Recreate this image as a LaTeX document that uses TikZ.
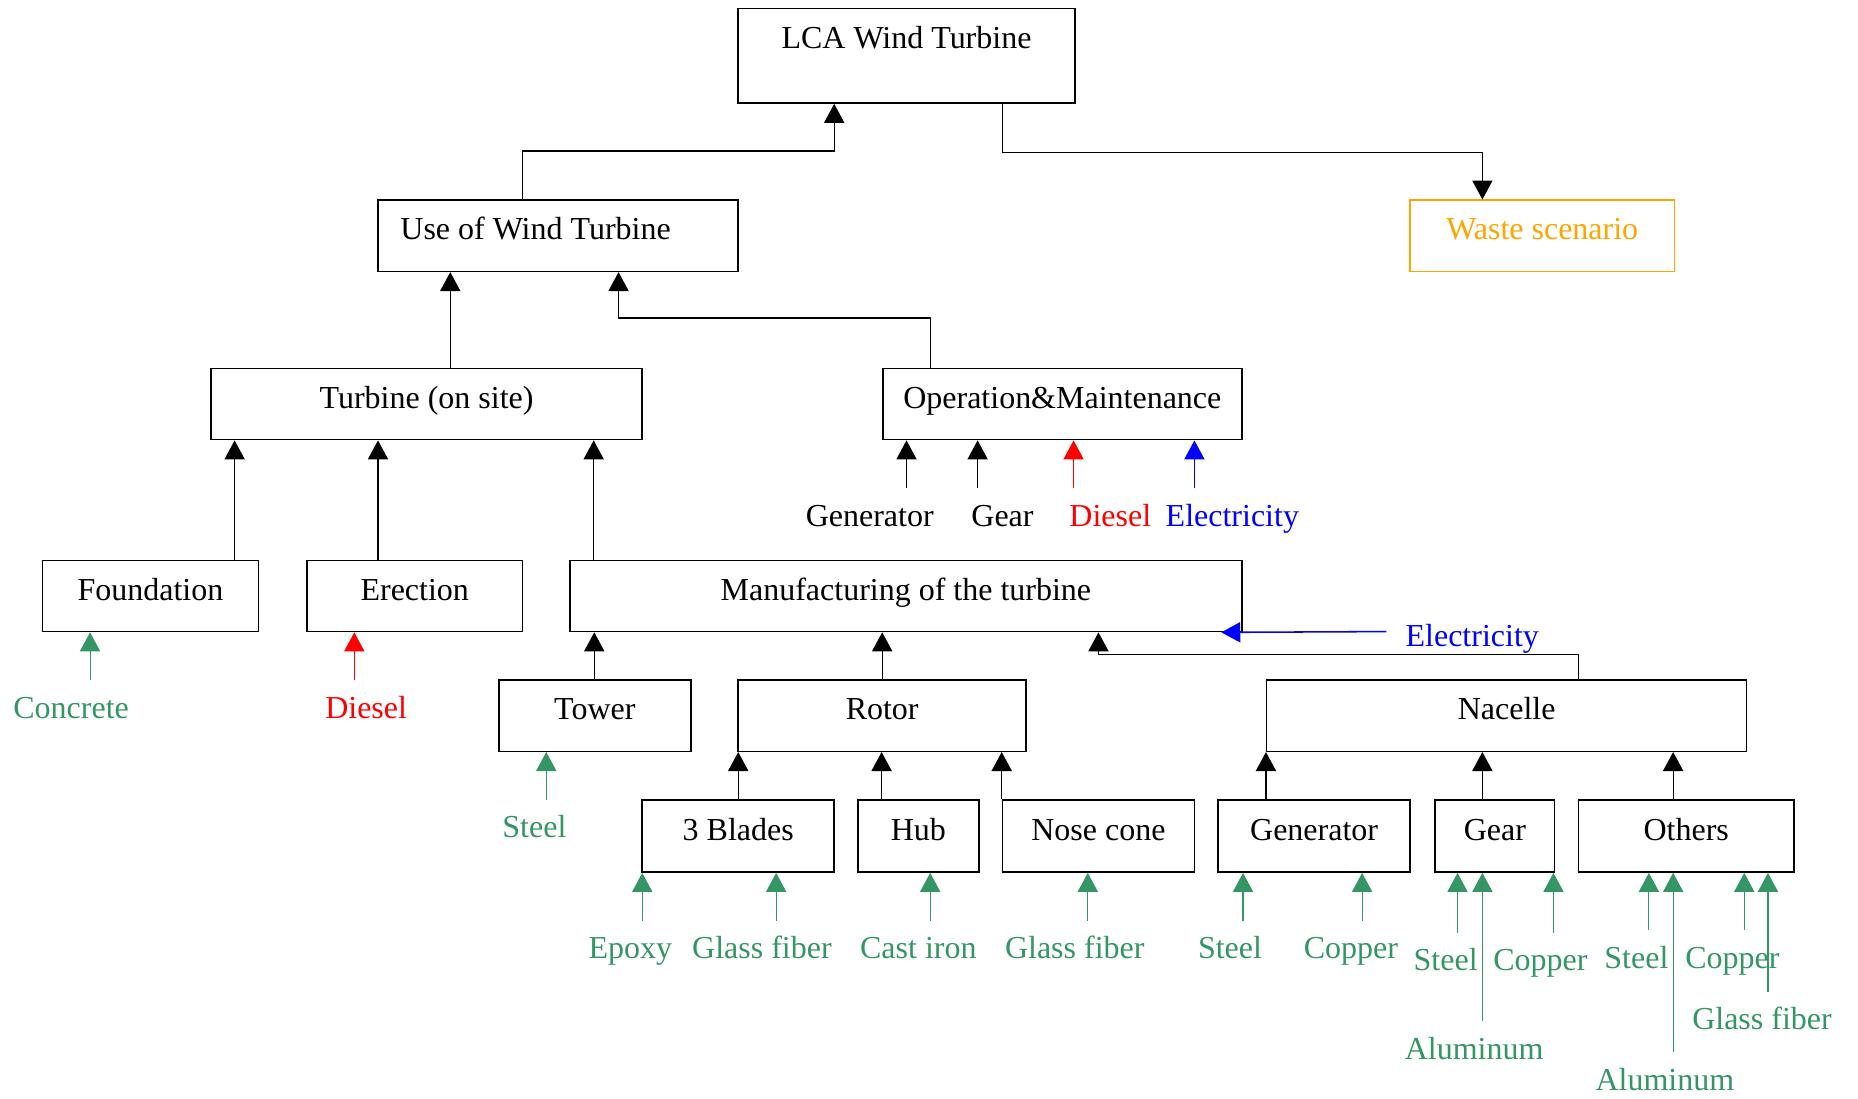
\documentclass[tikz,border=0pt]{standalone}
\usepackage{fontspec}
\setmainfont{Liberation Serif}
\usetikzlibrary{arrows.meta,calc}
\definecolor{sgreen}{RGB}{52,150,100}
\definecolor{gvorange}{RGB}{255,165,0}
% #1 name, #2 colour, #3 x, #4 y of free end, #5 target node, #6 label centre x, #7 text
\newcommand\inp[7]{%
  \coordinate (#1) at (#3,#4);
  \node[lbl,text=#2] (#1l) at (#6,#4+32) {#7};
  \draw[arr,#2,line width=0.9pt] (#1) -- (#1 |- #5.south);
}
\begin{document}
\begin{tikzpicture}[x=1pt,y=-1pt,
  box/.style={draw,line width=1.3pt,inner sep=0pt,minimum height=60pt,
    text height=20.5pt,text depth=13.5pt,font=\fontsize{27}{32}\selectfont},
  lbl/.style={anchor=base,inner sep=0pt,font=\fontsize{27}{32}\selectfont},
  arr/.style={line width=1.1pt,-{Triangle[length=16pt,width=17pt]}}]
\useasboundingbox (0,0) rectangle (1568,927);

% boxes
\node[box,minimum width=284pt,minimum height=80pt,text height=20pt,text depth=32.8pt] (lca) at (765,47) {LCA Wind Turbine};
\node[box,minimum width=304pt] (use) at (471,199) {Use of Wind Turbine\kern38pt};
\node[box,draw=gvorange,text=gvorange,minimum width=223pt] (waste) at (1301.5,199) {Waste scenario};
\node[box,minimum width=364pt] (turb) at (360,341) {Turbine (on site)};
\node[box,minimum width=303pt] (om) at (896.5,341) {Operation\&Maintenance};
\node[box,minimum width=182pt] (found) at (127,503) {Foundation};
\node[box,minimum width=182pt] (erect) at (350,503) {Erection};
\node[box,minimum width=567pt] (manuf) at (764.5,503) {Manufacturing of the turbine};
\node[box,minimum width=162pt] (tower) at (502,604) {Tower};
\node[box,minimum width=243pt] (rotor) at (744.5,604) {Rotor};
\node[box,minimum width=405pt] (nacelle) at (1271.5,604) {Nacelle};
\node[box,minimum width=162pt,minimum height=61pt] (blades) at (623,705.5) {3 Blades};
\node[box,minimum width=102pt,minimum height=61pt] (hub) at (775,705.5) {Hub};
\node[box,minimum width=162pt,minimum height=61pt] (nose) at (927,705.5) {Nose cone};
\node[box,minimum width=162pt,minimum height=61pt] (gen) at (1109,705.5) {Generator};
\node[box,minimum width=101pt,minimum height=61pt] (gear) at (1261.5,705.5) {Gear};
\node[box,minimum width=182pt,minimum height=61pt] (others) at (1423,705.5) {Others};

% connectors between boxes
\draw[arr] ([xshift=-30pt]use.north) -- ++(0,-41) -| ([xshift=-61pt]lca.south);
\draw[arr] ([xshift=81pt]lca.south) -- ++(0,41) -| ([xshift=-50.5pt]waste.north);
\draw[arr] ([xshift=20pt]turb.north) -- ([xshift=-91pt]use.south);
\draw[arr] ([xshift=-111.5pt]om.north) -- ++(0,-42) -| ([xshift=51pt]use.south);
\draw[arr] ([xshift=71pt]found.north) -- ([xshift=-162pt]turb.south);
\draw[arr] ([xshift=-31pt]erect.north) -- ([xshift=-41pt]turb.south);
\draw[arr] ([xshift=-263.5pt]manuf.north) -- ([xshift=141pt]turb.south);
\draw[arr] ([xshift=-0.5pt]tower.north) -- ([xshift=-0.5pt]tower.north |- manuf.south);
\draw[arr] (rotor.north) -- (rotor.north |- manuf.south);
\draw[arr] ([xshift=60.5pt]nacelle.north) -- ++(0,-21) -| ([xshift=162.5pt]manuf.south);
\draw[arr] (blades.north) -- (blades.north |- rotor.south);
\draw[arr] ([xshift=-31pt]hub.north) -- ([xshift=-31pt]hub.north |- rotor.south);
\draw[arr] (nose.north west) -- (nose.north west |- rotor.south);
\draw[arr] (nacelle.south west |- gen.north) -- (nacelle.south west);
\draw[arr] ([xshift=-10.5pt]gear.north) -- ([xshift=-10.5pt]gear.north |- nacelle.south);
\draw[arr] ([xshift=-11pt]others.north) -- ([xshift=-11pt]others.north |- nacelle.south);

% inputs
\inp{i1}{black}{765}{412}{om}{734}{Generator}
\inp{i2}{black}{825}{412}{om}{846}{Gear}
\inp{i3}{red}{906}{412}{om}{937}{Diesel}
\inp{i4}{blue}{1008}{412}{om}{1040}{Electricity}
\inp{i5}{sgreen}{76}{574}{found}{60}{Concrete}
\inp{i6}{red}{299}{574}{erect}{309}{Diesel}
\inp{i7}{sgreen}{461}{675}{tower}{451}{Steel}
\inp{i8}{sgreen}{542}{777}{blades}{532}{Epoxy}
\inp{i9}{sgreen}{655}{777}{blades}{643}{Glass fiber}
\inp{i10}{sgreen}{785}{777}{hub}{775}{Cast iron}
\inp{i11}{sgreen}{918}{777}{nose}{907}{Glass fiber}
\inp{i12}{sgreen}{1049}{777}{gen}{1038}{Steel}
\inp{i13}{sgreen}{1149.5}{777}{gen}{1140}{Copper}
\inp{i14}{sgreen}{1230}{787}{gear}{1220}{Steel}
\inp{i15}{sgreen}{1251}{862}{gear}{1244}{Aluminum}
\inp{i16}{sgreen}{1311}{787}{gear}{1300}{Copper}
\inp{i17}{sgreen}{1391.5}{785}{others}{1381}{Steel}
\inp{i18}{sgreen}{1412}{888}{others}{1405}{Aluminum}
\inp{i19}{sgreen}{1472}{785}{others}{1462}{Copper}
\inp{i20}{sgreen}{1492}{837}{others}{1487}{Glass fiber}

% electricity into manufacturing
\coordinate (elec) at (1170,533);
\node[lbl,anchor=base west,text=blue] (elecl) at (1186,546) {Electricity};
\draw[arr,blue,line width=1.3pt] (elec) -- ([xshift=-18pt]manuf.south east);
\end{tikzpicture}
\end{document}
